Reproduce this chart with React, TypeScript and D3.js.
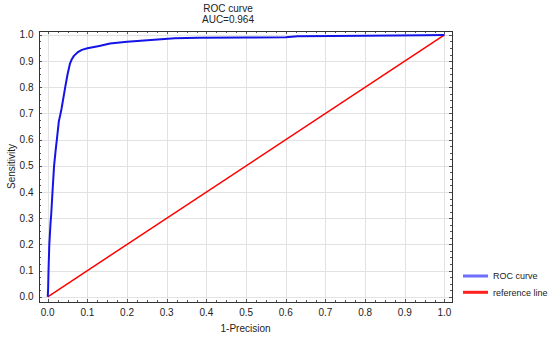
import React, { useRef, useEffect } from "react";
import * as d3 from "d3";

// ROC curve points: [1-Precision, Sensitivity]
const rocFpr = [
  0, 0.001, 0.002, 0.004, 0.007, 0.009, 0.012, 0.016, 0.02, 0.023, 0.028,
  0.031, 0.035, 0.044, 0.05, 0.056, 0.06, 0.066, 0.075, 0.086, 0.1, 0.13,
  0.157, 0.2, 0.26, 0.32, 0.38, 0.5, 0.6, 0.63, 0.8, 0.95, 1,
];
const rocTpr = [
  0, 0.03, 0.1, 0.2, 0.28, 0.32, 0.4, 0.5, 0.56, 0.6, 0.67, 0.69, 0.72, 0.8,
  0.85, 0.89, 0.905, 0.92, 0.933, 0.943, 0.949, 0.958, 0.967, 0.974, 0.981,
  0.987, 0.989, 0.99, 0.991, 0.995, 0.997, 0.999, 1,
];
const refLine = [
  [0, 0],
  [1, 1],
];
const ticks = [0, 0.1, 0.2, 0.3, 0.4, 0.5, 0.6, 0.7, 0.8, 0.9, 1.0];
const legendItems = ["ROC curve", "reference line"];
const legendColors = ["#6e6eff", "#ff2020"];

function RocChart() {
  const ref = useRef<SVGSVGElement>(null);

  useEffect(() => {
    const width = 550;
    const height = 338;
    const left = 39;
    const right = 452;
    const top = 31;
    const bottom = 302;

    const svg = d3.select(ref.current);
    svg.selectAll("*").remove();
    svg.attr("viewBox", [0, 0, width, height]).style("font-family", "'Liberation Sans', Arial, sans-serif");

    const x = d3.scaleLinear().domain([-0.022, 1.019]).range([left, right]);
    const y = d3.scaleLinear().domain([-0.02, 1.015]).range([bottom, top]);

    // grid
    const grid = svg.append("g").attr("stroke", "#e2e2e2").attr("stroke-width", 1);
    grid.selectAll("line.v")
      .data(ticks)
      .enter()
      .append("line")
      .attr("x1", (d) => Math.round(x(d)) + 0.5)
      .attr("x2", (d) => Math.round(x(d)) + 0.5)
      .attr("y1", top)
      .attr("y2", bottom);
    grid.selectAll("line.h")
      .data(ticks)
      .enter()
      .append("line")
      .attr("y1", (d) => Math.round(y(d)) + 0.5)
      .attr("y2", (d) => Math.round(y(d)) + 0.5)
      .attr("x1", left)
      .attr("x2", right);

    // inside ticks on all four sides
    const minor = d3.range(0, 1.0001, 0.025);
    const tk = svg.append("g").attr("stroke", "#555").attr("stroke-width", 1);
    minor.forEach((v, i) => {
      const len = i % 4 === 0 ? 3 : 2;
      const xp = Math.round(x(v)) + 0.5;
      const yp = Math.round(y(v)) + 0.5;
      tk.append("line").attr("x1", xp).attr("x2", xp).attr("y1", bottom).attr("y2", bottom - len);
      tk.append("line").attr("x1", xp).attr("x2", xp).attr("y1", top).attr("y2", top + len);
      tk.append("line").attr("y1", yp).attr("y2", yp).attr("x1", left).attr("x2", left + len);
      tk.append("line").attr("y1", yp).attr("y2", yp).attr("x1", right).attr("x2", right - len);
    });

    // frame
    svg.append("rect")
      .attr("x", left + 0.5)
      .attr("y", top + 0.5)
      .attr("width", right - left)
      .attr("height", bottom - top)
      .attr("fill", "none")
      .attr("stroke", "#333")
      .attr("stroke-width", 1);

    // tick labels
    svg.append("g")
      .selectAll("text")
      .data(ticks)
      .enter()
      .append("text")
      .attr("x", (d) => x(d))
      .attr("y", 316)
      .attr("text-anchor", "middle")
      .attr("font-size", 10)
      .attr("fill", "#222")
      .text((d) => d.toFixed(1));
    svg.append("g")
      .selectAll("text")
      .data(ticks)
      .enter()
      .append("text")
      .attr("x", 33.5)
      .attr("y", (d) => y(d) + 3.5)
      .attr("text-anchor", "end")
      .attr("font-size", 10)
      .attr("fill", "#222")
      .text((d) => d.toFixed(1));

    // reference line
    const line = d3.line<number[]>().x((d) => x(d[0])).y((d) => y(d[1]));
    svg.append("path")
      .datum(refLine)
      .attr("fill", "none")
      .attr("stroke", "#ff0000")
      .attr("stroke-width", 1.5)
      .attr("d", line);

    // ROC curve
    const rocData = rocFpr.map((f, i) => [f, rocTpr[i]]);
    svg.append("path")
      .datum(rocData)
      .attr("fill", "none")
      .attr("stroke", "#1414e6")
      .attr("stroke-width", 2)
      .attr("stroke-linejoin", "round")
      .attr("d", line);

    // titles
    const title = svg.append("text").attr("text-anchor", "middle").attr("font-size", 10).attr("fill", "#222");
    title.append("tspan").attr("x", 228).attr("y", 12).text("ROC curve");
    title.append("tspan").attr("x", 228).attr("y", 23).text("AUC=0.964");

    svg.append("text")
      .attr("x", (left + right) / 2)
      .attr("y", 332)
      .attr("text-anchor", "middle")
      .attr("font-size", 10)
      .attr("fill", "#222")
      .text("1-Precision");
    svg.append("text")
      .attr("transform", `translate(14.5,${(top + bottom) / 2}) rotate(-90)`)
      .attr("text-anchor", "middle")
      .attr("font-size", 10)
      .attr("fill", "#222")
      .text("Sensitivity");

    // legend
    const lg = svg.append("g")
      .selectAll("g")
      .data(legendItems)
      .enter()
      .append("g")
      .attr("transform", (d, i) => `translate(463,${276 + i * 16.3})`);
    lg.append("line")
      .attr("x1", 0)
      .attr("x2", 25)
      .attr("stroke", (d, i) => legendColors[i])
      .attr("stroke-width", 3);
    lg.append("text")
      .attr("x", 30)
      .attr("y", 3.2)
      .attr("font-size", 9)
      .attr("fill", "#222")
      .text((d) => d);
  }, []);

  return (
    <svg
      ref={ref}
      width={550}
      height={338}
      style={{ position: "absolute", left: 0, top: 0, background: "#fff" }}
    />
  );
}

export default function App() {
  return <RocChart />;
}
